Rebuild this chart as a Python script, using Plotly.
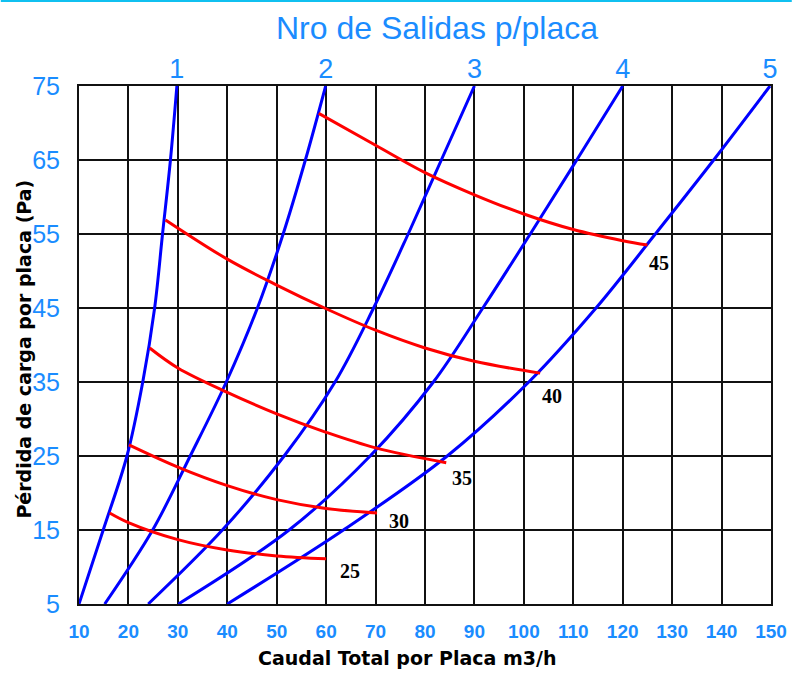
import plotly.graph_objects as go

# ---------------- data ----------------
x_ticks = list(range(10, 151, 10))
y_ticks = [5, 15, 25, 35, 45, 55, 65, 75]
salidas_labels = ["1", "2", "3", "4", "5"]

# Blue curves (Nro de salidas): flow (x) read at each pressure level (y)
y_levels = [5, 15, 25, 35, 45, 55, 65, 75]
salida_1 = [10, 14.9, 19.7, 22.9, 25.3, 26.9, 28.5, 29.8]
salida_2 = [15.2, 24.9, 32.5, 39.8, 46.1, 51.3, 55.8, 59.9]
salida_3 = [24, 39, 51.5, 61.8, 69.6, 76.6, 83.3, 90]
salida_4 = [30.1, 52.5, 68.9, 81.7, 91.7, 101.3, 110.7, 120]
salida_5 = [40, 63.5, 84.5, 101.0, 114.6, 126.6, 138.4, 149.8]
salidas = [salida_1, salida_2, salida_3, salida_4, salida_5]

# Red curves
red_labels = ["25", "30", "35", "40", "45"]
red_25_x = [16.2, 20, 30, 40, 50, 60]
red_25_y = [17.3, 16.0, 13.7, 12.3, 11.5, 11.1]
red_30_x = [20.1, 30, 40, 50, 60, 70.3]
red_30_y = [26.5, 23.5, 21.0, 19.1, 17.9, 17.3]
red_35_x = [24.3, 30, 40, 50, 60, 70, 84.3]
red_35_y = [39.6, 36.9, 33.6, 30.7, 28.2, 26.1, 24.1]
red_40_x = [27.5, 40, 50, 60, 70, 80, 90, 103.3]
red_40_y = [56.9, 51.6, 48.1, 44.9, 42.0, 39.6, 37.8, 36.2]
red_45_x = [58.5, 70, 80, 90, 100, 110, 120, 125]
red_45_y = [71.3, 67.0, 63.3, 60.3, 57.7, 55.6, 54.1, 53.5]
red_x = [red_25_x, red_30_x, red_35_x, red_40_x, red_45_x]
red_y = [red_25_y, red_30_y, red_35_y, red_40_y, red_45_y]

# ---------------- styling ----------------
BLUE_TXT = "#1a8cff"
label_shifts = [(24, -12), (22, -8), (16, -15), (12, -23), (12, -18)]

fig = go.Figure()

for xs in salidas:
    fig.add_trace(go.Scatter(x=xs, y=y_levels, mode="lines",
                             line=dict(color="#0000ff", width=3, shape="spline", smoothing=1.0),
                             hoverinfo="skip", showlegend=False))

for xs, ys in zip(red_x, red_y):
    fig.add_trace(go.Scatter(x=xs, y=ys, mode="lines",
                             line=dict(color="#ff0000", width=3, shape="spline", smoothing=1.0),
                             hoverinfo="skip", showlegend=False))

# invisible trace carrying the top axis
fig.add_trace(go.Scatter(x=[s[-1] for s in salidas], y=[y_levels[-1]] * 5, xaxis="x2",
                         mode="markers", marker=dict(opacity=0), hoverinfo="skip", showlegend=False))

for lab, xs, ys, (dx, dy) in zip(red_labels, red_x, red_y, label_shifts):
    fig.add_annotation(x=xs[-1], y=ys[-1], text=f"<b>{lab}</b>", showarrow=False,
                       xshift=dx, yshift=dy,
                       font=dict(family="Liberation Serif", size=20, color="black"))

grid_col = "#111111"
fig.update_layout(
    width=799, height=673,
    margin=dict(l=79, r=21, t=86, b=69, pad=0),
    plot_bgcolor="white", paper_bgcolor="white",
    xaxis=dict(range=[10, 150], tickvals=x_ticks, ticktext=[str(v) for v in x_ticks],
               showgrid=True, gridcolor=grid_col, gridwidth=2,
               showline=True, linecolor=grid_col, linewidth=2, mirror=True,
               zeroline=False, ticks="", ticklabelstandoff=9,
               tickfont=dict(family="Liberation Sans", size=19, color=BLUE_TXT, weight="bold")),
    xaxis2=dict(range=[10, 150], overlaying="x", side="top",
                tickvals=[s[-1] for s in salidas], ticktext=salidas_labels,
                showgrid=False, zeroline=False, ticks="", showline=False,
                ticklabelstandoff=2,
                tickfont=dict(family="Liberation Sans", size=27, color=BLUE_TXT)),
    yaxis=dict(range=[5, 75], tickvals=y_ticks, ticktext=[str(v) for v in y_ticks],
               showgrid=True, gridcolor=grid_col, gridwidth=2,
               showline=True, linecolor=grid_col, linewidth=2, mirror=True,
               zeroline=False, ticks="", ticklabelstandoff=12,
               tickfont=dict(family="Liberation Sans", size=25, color=BLUE_TXT)),
)

fig.add_annotation(text="Nro de Salidas p/placa", xref="paper", yref="paper",
                   x=0.518, y=1.112, xanchor="center", yanchor="middle", showarrow=False,
                   font=dict(family="Liberation Sans", size=32, color=BLUE_TXT))
fig.add_annotation(text="<b>Caudal Total por Placa m3/h</b>", xref="paper", yref="paper",
                   x=0.4735, y=-0.1042, xanchor="center", yanchor="middle", showarrow=False,
                   font=dict(family="DejaVu Sans", size=19, color="black"))
fig.add_annotation(text="<b>Pérdida de carga por placa (Pa)</b>", xref="paper", yref="paper",
                   x=-0.0801, y=0.4923, xanchor="center", yanchor="middle", showarrow=False,
                   textangle=-90,
                   font=dict(family="DejaVu Sans", size=19, color="black"))

# thin cyan line across the top of the image
fig.add_shape(type="line", xref="paper", yref="paper", x0=-79 / 699, x1=720 / 699,
              y0=(604 - 1) / 518, y1=(604 - 1) / 518, line=dict(color="#10c0f0", width=2))

fig.write_html("out.html", config={"displayModeBar": False},
               post_script="document.body.style.margin='0';")
